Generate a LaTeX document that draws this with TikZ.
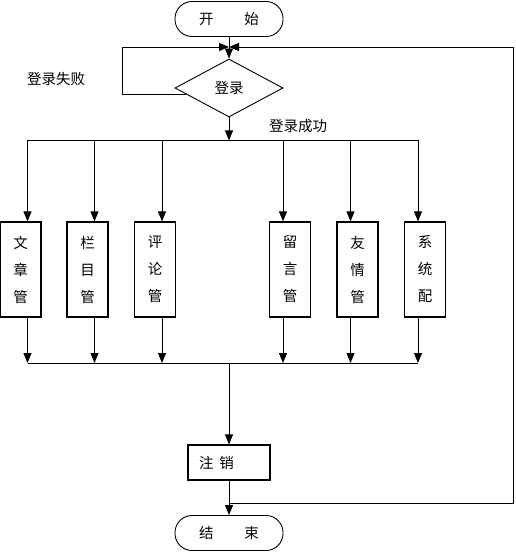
\documentclass[tikz,border=0pt]{standalone}
\usepackage{fontspec}
\setmainfont{Noto Sans CJK SC}
\usetikzlibrary{arrows.meta}
\usetikzlibrary{shapes.geometric}
\pgfdeclarelayer{edgelayer}
\pgfdeclarelayer{nodelayer}
\pgfsetlayers{edgelayer,nodelayer,main}
\tikzstyle{terminal}=[rectangle,rounded corners=17pt,fill=white,draw=black,line width=0.9pt,minimum width=108pt,minimum height=35pt,inner sep=0pt]
\tikzstyle{decision}=[diamond,fill=white,draw=black,line width=0.9pt,minimum width=108pt,minimum height=58pt,inner sep=0pt]
\tikzstyle{module}=[rectangle,fill=white,draw=black,line width=1.2pt,minimum width=41pt,minimum height=95pt,inner sep=0pt,align=center,font=\fontsize{14.5pt}{27pt}\selectfont]
\tikzstyle{process}=[rectangle,fill=white,draw=black,line width=1.2pt,minimum height=35pt,inner xsep=11pt,inner ysep=0pt,text width=60pt,align=left]
\tikzstyle{label}=[inner sep=0pt]
\tikzstyle{transition}=[-{Triangle[length=10pt,width=8pt]},draw=black,line width=0.9pt]
\tikzstyle{wire}=[draw=black,line width=0.9pt]

\begin{document}
\begin{tikzpicture}[x=1pt,y=-1pt,font=\fontsize{14.5pt}{17pt}\selectfont]
	\useasboundingbox (0,0) rectangle (515,553);
	\begin{pgfonlayer}{nodelayer}
		\node [style=terminal] (0) at (229,19) {开\hspace{31pt}始\hspace{12pt}};
		\node [style=decision] (1) at (229,88) {登录\hspace{8pt}};
		\node [style=module] (2) at (20.5,269.5) {文\\章\\管};
		\node [style=module] (3) at (87.5,269.5) {栏\\目\\管};
		\node [style=module] (4) at (155,269.5) {评\\论\\管};
		\node [style=module] (5) at (290,269.5) {留\\言\\管};
		\node [style=module] (6) at (357.5,269.5) {友\\情\\管};
		\node [style=module] (7) at (425,269.5) {系\\统\\配};
		\node [style=process] (8) at (229,462.5) {注\hspace{6pt}销};
		\node [style=terminal] (9) at (229,533) {结\hspace{31pt}束\hspace{12pt}};
		\node [style=label] (fail) at (56,79) {登录失败};
		\node [style=label] (ok) at (298,126) {登录成功};
	\end{pgfonlayer}
	\begin{pgfonlayer}{edgelayer}
		\coordinate (m) at (229,47);
		\coordinate (fl) at (122,47);
		\coordinate (b) at (229,140.5);
		\coordinate (c) at (229,363);
		\coordinate (lo) at (229,503);
		\coordinate (rb) at (513,503);
		\coordinate (rt) at (513,47);
		\draw [style=transition] (0) to (1);
		\draw [style=transition] (1.188) -| (fl) -- (m);
		\draw [style=transition] (1) to (b);
		\draw [style=transition] (b) -| ([xshift=7]2.north);
		\draw [style=transition] (b) -| ([xshift=7]3.north);
		\draw [style=transition] (b) -| ([xshift=7]4.north);
		\draw [style=transition] (b) -| ([xshift=-7]5.north);
		\draw [style=transition] (b) -| ([xshift=-7]6.north);
		\draw [style=transition] (b) -| ([xshift=-7]7.north);
		\draw [style=transition] ([xshift=7]2.south) to ([xshift=7]2.south |- c);
		\draw [style=transition] ([xshift=7]3.south) to ([xshift=7]3.south |- c);
		\draw [style=transition] ([xshift=7]4.south) to ([xshift=7]4.south |- c);
		\draw [style=transition] ([xshift=-7]5.south) to ([xshift=-7]5.south |- c);
		\draw [style=transition] ([xshift=-7]6.south) to ([xshift=-7]6.south |- c);
		\draw [style=transition] ([xshift=-7]7.south) to ([xshift=-7]7.south |- c);
		\draw [style=wire] ([xshift=7]2.south |- c) -- ([xshift=-7]7.south |- c);
		\draw [style=transition] (c) to (8);
		\draw [style=transition] (8) to (9);
		\draw [style=transition] (lo) -- (rb) -- (rt) -- (m);
	\end{pgfonlayer}
\end{tikzpicture}
\end{document}
